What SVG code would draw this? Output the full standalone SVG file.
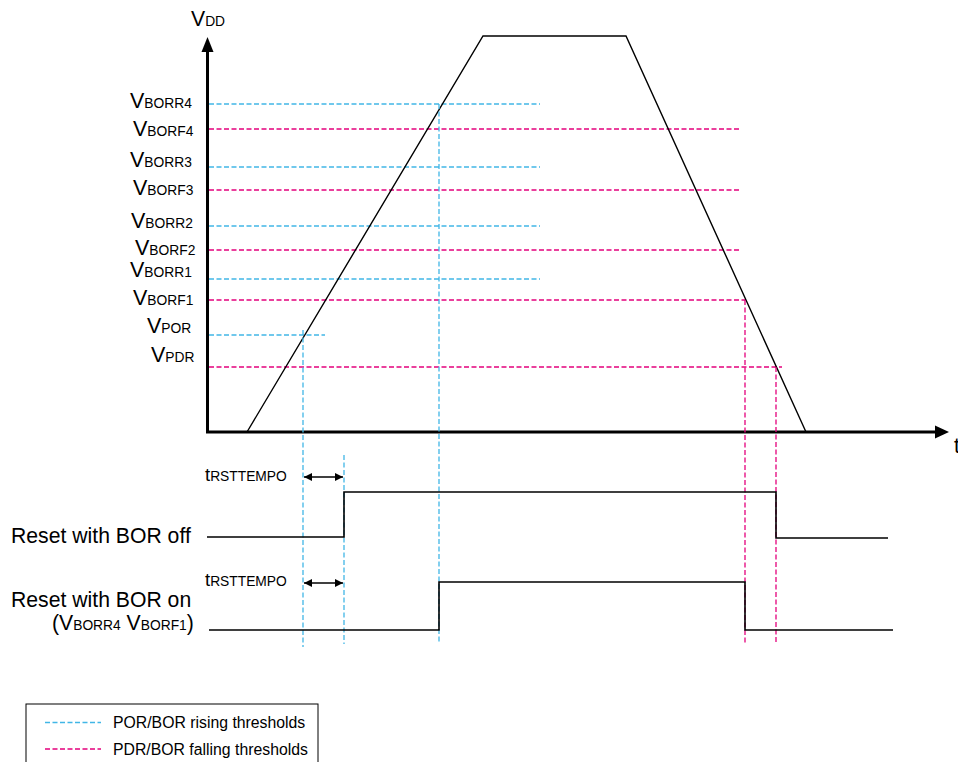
<svg xmlns="http://www.w3.org/2000/svg" width="958" height="762" viewBox="0 0 958 762">
<style>
  text { font-family: "Liberation Sans", Arial, sans-serif; fill: #000; }
  .lbl { font-size: 21.5px; }
  .sub { font-size: 13.8px; }
  .big { font-size: 21.2px; }
  .rise { stroke: #41b6e6; stroke-width: 1.3; stroke-dasharray: 5 2.5; fill: none; }
  .fall { stroke: #e4007c; stroke-width: 1.3; stroke-dasharray: 5 2.5; fill: none; }
  .axis { stroke: #000; stroke-width: 3; fill: none; }
  .curve { stroke: #000; stroke-width: 1.4; fill: none; }
  .sig { stroke: #000; stroke-width: 1.6; fill: none; }
  .dbl { stroke: #000; stroke-width: 1.4; fill: none; marker-start: url(#ah); marker-end: url(#ah); }
</style>
<defs>
  <marker id="ah" viewBox="0 0 10 10" refX="10" refY="5" markerWidth="10" markerHeight="8" markerUnits="userSpaceOnUse" orient="auto-start-reverse">
    <path d="M0,0 L10,5 L0,10 Z" fill="#000"/>
  </marker>
</defs>
<rect width="958" height="762" fill="#fff"/>

<g id="axes">
  <line class="axis" x1="207.5" y1="433" x2="207.5" y2="50"/>
  <path d="M201.5,52 L207.5,37 L213.5,52 Z" fill="#000"/>
  <line class="axis" x1="206" y1="432" x2="936" y2="432"/>
  <path d="M935,425.5 L949,432 L935,438.5 Z" fill="#000"/>
  <text x="191" y="26" class="big" font-size="20.5">V<tspan class="sub" font-size="14">DD</tspan></text>
  <text x="954" y="453" class="big">t</text>
</g>

<g id="thresholds">
  <line class="rise" x1="209" y1="104" x2="540" y2="104"/>
  <line class="fall" x1="209" y1="129" x2="740" y2="129"/>
  <line class="rise" x1="209" y1="167" x2="540" y2="167"/>
  <line class="fall" x1="209" y1="190" x2="740" y2="190"/>
  <line class="rise" x1="209" y1="226" x2="540" y2="226"/>
  <line class="fall" x1="209" y1="250" x2="740" y2="250"/>
  <line class="rise" x1="209" y1="279" x2="540" y2="279"/>
  <line class="fall" x1="209" y1="300" x2="746" y2="300"/>
  <line class="rise" x1="209" y1="335" x2="325" y2="335"/>
  <line class="fall" x1="209" y1="367" x2="782" y2="367"/>
</g>

<g id="threshold-labels">
  <text x="130" y="108" class="lbl">V<tspan class="sub">BORR4</tspan></text>
  <text x="133" y="136" class="lbl">V<tspan class="sub">BORF4</tspan></text>
  <text x="130" y="167" class="lbl">V<tspan class="sub">BORR3</tspan></text>
  <text x="133" y="195" class="lbl">V<tspan class="sub">BORF3</tspan></text>
  <text x="131" y="228" class="lbl">V<tspan class="sub">BORR2</tspan></text>
  <text x="135" y="255" class="lbl">V<tspan class="sub">BORF2</tspan></text>
  <text x="130" y="277" class="lbl">V<tspan class="sub">BORR1</tspan></text>
  <text x="133" y="305" class="lbl">V<tspan class="sub">BORF1</tspan></text>
  <text x="147" y="333" class="lbl">V<tspan class="sub">POR</tspan></text>
  <text x="151" y="362" class="lbl">V<tspan class="sub">PDR</tspan></text>
</g>

<g id="vdd-curve">
  <polyline class="curve" points="247,432 483,36 626,36 806,432"/>
</g>

<g id="connectors">
  <line class="rise" x1="303" y1="330" x2="303" y2="647"/>
  <line class="rise" x1="344" y1="455" x2="344" y2="644"/>
  <line class="rise" x1="439" y1="104" x2="439" y2="644"/>
  <line class="fall" x1="745" y1="300" x2="745" y2="644"/>
  <line class="fall" x1="776" y1="367" x2="776" y2="644"/>
</g>

<g id="reset-bor-off">
  <text x="11" y="543" class="big">Reset with BOR off</text>
  <polyline class="sig" points="207,537 344,537 344,492 776,492 776,538 888,538"/>
  <text x="205" y="481" font-size="18.5">t<tspan class="sub" font-size="14">RSTTEMPO</tspan></text>
  <line class="dbl" x1="304" y1="477" x2="343" y2="477"/>
</g>

<g id="reset-bor-on">
  <text x="11" y="607" class="big">Reset with BOR on</text>
  <text x="52" y="630" class="big">(V<tspan class="sub">BORR4</tspan> V<tspan class="sub">BORF1</tspan>)</text>
  <polyline class="sig" points="209,630 439,630 439,582 745,582 745,630 893,630"/>
  <text x="205" y="586" font-size="18.5">t<tspan class="sub" font-size="14">RSTTEMPO</tspan></text>
  <line class="dbl" x1="304" y1="583" x2="343" y2="583"/>
</g>

<g id="legend">
  <rect x="26" y="704" width="292" height="70" fill="#fff" stroke="#000" stroke-width="1"/>
  <line class="rise" x1="45" y1="722.5" x2="101" y2="722.5"/>
  <text x="113" y="728" font-size="15.8">POR/BOR rising thresholds</text>
  <line class="fall" x1="45" y1="749" x2="101" y2="749"/>
  <text x="113" y="755" font-size="15.8">PDR/BOR falling thresholds</text>
</g>
</svg>
